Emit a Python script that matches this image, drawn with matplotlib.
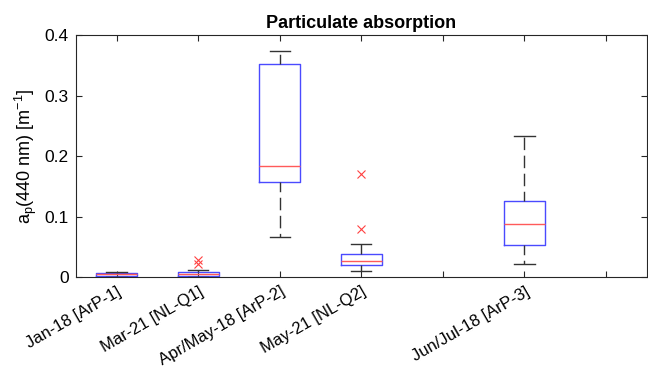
import matplotlib
matplotlib.use("Agg")
import matplotlib.pyplot as plt

plt.rcParams['font.family'] = ['Liberation Sans', 'DejaVu Sans']
plt.rcParams['mathtext.fontset'] = 'custom'
plt.rcParams['mathtext.rm'] = 'Liberation Sans'

# campaign labels and box positions (position 5 and 7 are empty slots)
labels = ['Jan-18 [ArP-1]', 'Mar-21 [NL-Q1]', 'Apr/May-18 [ArP-2]',
          'May-21 [NL-Q2]', 'Jun/Jul-18 [ArP-3]']
positions = [1, 2, 3, 4, 6]

# box statistics, a_p(440) in 1/m
whislo = [0.0005, 0.0005, 0.066, 0.0105, 0.0215]
q1 = [0.0012, 0.0022, 0.158, 0.020, 0.0524]
med = [0.0045, 0.0055, 0.184, 0.027, 0.087]
q3 = [0.0062, 0.0083, 0.353, 0.0375, 0.1256]
whishi = [0.009, 0.0116, 0.374, 0.0545, 0.233]
fliers = [[], [0.021, 0.028], [], [0.079, 0.171], []]

stats = []
for i in range(len(labels)):
    stats.append({'whislo': whislo[i], 'q1': q1[i], 'med': med[i],
                  'q3': q3[i], 'whishi': whishi[i], 'fliers': fliers[i],
                  'label': labels[i]})

fig = plt.figure(figsize=(6.48, 3.73), dpi=100)
ax = fig.add_axes([0.117, 0.257, 0.881, 0.649])

ax.bxp(stats, positions=positions, widths=0.5, capwidths=0.25,
       boxprops=dict(color='#4a4aff', linewidth=1.0),
       medianprops=dict(color='#ff5a5a', linewidth=1.0),
       whiskerprops=dict(color='#333333', linewidth=1.0, linestyle=(2, (9, 4))),
       capprops=dict(color='#333333', linewidth=1.0),
       flierprops=dict(marker='x', markeredgecolor='#ff4040', markersize=6,
                       markeredgewidth=0.8, linestyle='none'))

ax.set_xlim(0.5, 7.5)
ax.set_ylim(0, 0.4)
ax.set_xticks(range(1, 8))
tick_text = ['', '', '', '', '', '', '']
for p, lab in zip(positions, labels):
    tick_text[p - 1] = lab
ax.set_xticklabels(tick_text, rotation=30, ha='right', rotation_mode='anchor',
                   fontsize=12)
ax.set_yticks([0, 0.1, 0.2, 0.3, 0.4])
ax.set_yticklabels(['0', '0.1', '0.2', '0.3', '0.4'], fontsize=12.5)

ax.tick_params(direction='in', top=True, right=True, length=4,
               color='#262626', pad=5)
for s in ax.spines.values():
    s.set_color('#262626')
    s.set_linewidth(0.8)

ax.set_ylabel(r'a$_{\rm p}$(440 nm) [m$^{-1}$]', fontsize=13)
ax.set_title('Particulate absorption', fontsize=13, fontweight='bold', pad=5)

fig.savefig('out.png', dpi=100)
